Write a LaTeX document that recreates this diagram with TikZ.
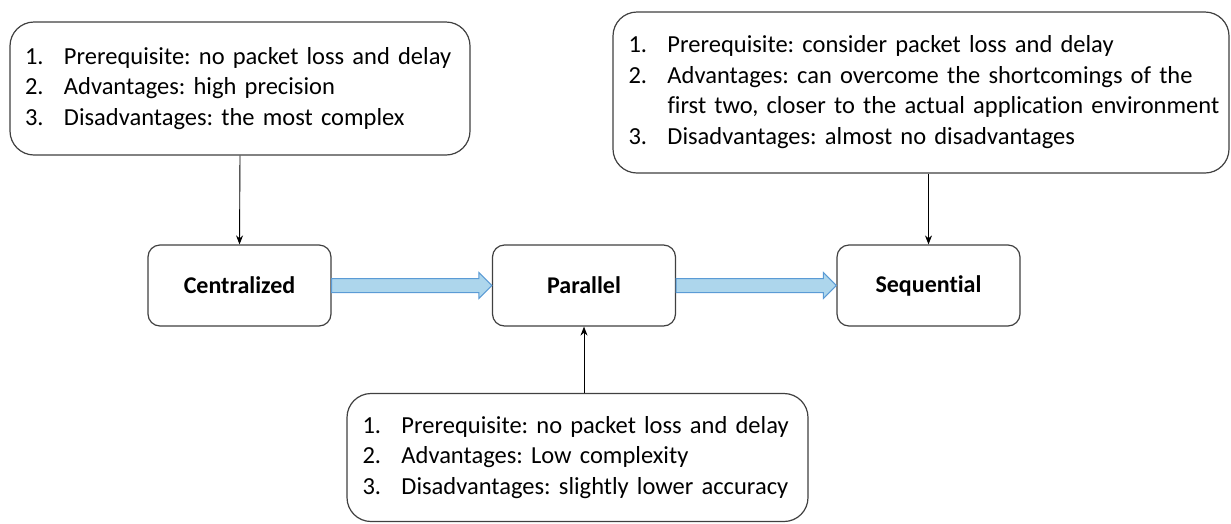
\documentclass[tikz,border=0pt]{standalone}
\usepackage{fontspec}
\setmainfont{Carlito}[Ligatures=NoCommon]
\frenchspacing
\usetikzlibrary{calc,arrows.meta}
\definecolor{edge}{HTML}{404040}
\definecolor{arrfill}{HTML}{ADD6EC}
\definecolor{arrline}{HTML}{5B9BD5}
\newcommand{\itm}[1]{\makebox[39pt][l]{#1}}
\begin{document}
\begin{tikzpicture}[x=1pt,y=-1pt,
  infobox/.style={draw=edge,line width=1.2pt,rounded corners=24pt,fill=white,
    text width=#1,align=left,inner xsep=0pt,inner ysep=0pt,
    font=\fontsize{24.5}{30.5}\selectfont},
  stagebox/.style={draw=edge,line width=1.2pt,rounded corners=12pt,fill=white,
    minimum width=183pt,minimum height=81pt,inner sep=0pt,
    font=\fontsize{24}{29}\selectfont\bfseries},
  link/.style={draw=black,line width=0.9pt,-{Stealth[length=9pt,width=7pt]}},
  blockarrow/.style={draw=arrline,fill=arrfill,line width=1pt,line join=miter}]
\useasboundingbox (0,0) rectangle (1231,523);

% stage nodes
\node[stagebox] (cen) at (239.5,285.5) {Centralized};
\node[stagebox] (par) at (584,285.5) {Parallel};
\node[stagebox] (seq) at (928.5,285.5) {Sequential};

% info boxes
\node[infobox=430pt,minimum width=460pt,minimum height=133pt] (tl) at (240,88.5)
 {\raisebox{-2pt}{\begin{tabular}{@{}l@{}}
 \itm{1.}Prerequisite: no packet loss and delay\\
 \itm{2.}Advantages: high precision\\
 \itm{3.}Disadvantages: the most complex
 \end{tabular}}};
\node[infobox=585pt,minimum width=616pt,minimum height=161pt] (tr) at (921,92.5)
 {\raisebox{-2pt}{\begin{tabular}{@{}l@{}}
 \itm{1.}Prerequisite: consider packet loss and delay\\
 \itm{2.}Advantages: can overcome the shortcomings of the\\
 \itm{}first two, closer to the actual application environment\\
 \itm{3.}Disadvantages: almost no disadvantages
 \end{tabular}}};
\node[infobox=430pt,minimum width=461pt,minimum height=128pt] (bt) at (577.5,457.5)
 {\raisebox{-2pt}{\begin{tabular}{@{}l@{}}
 \itm{1.}Prerequisite: no packet loss and delay\\
 \itm{2.}Advantages: Low complexity\\
 \itm{3.}Disadvantages: slightly lower accuracy
 \end{tabular}}};

% thin connectors
\draw[link] (tl.south) -- (cen.north);
\draw[link] (tr.south -| seq.north) -- (seq.north);
\draw[link] (bt.north -| par.south) -- (par.south);

% block arrows
\draw[blockarrow] ($(cen.east)+(0,-7)$) -- ($(par.west)+(-13,-7)$) -- ($(par.west)+(-13,-13)$)
  -- (par.west) -- ($(par.west)+(-13,13)$) -- ($(par.west)+(-13,7)$) -- ($(cen.east)+(0,7)$) -- cycle;
\draw[blockarrow] ($(par.east)+(0,-7)$) -- ($(seq.west)+(-13,-7)$) -- ($(seq.west)+(-13,-13)$)
  -- (seq.west) -- ($(seq.west)+(-13,13)$) -- ($(seq.west)+(-13,7)$) -- ($(par.east)+(0,7)$) -- cycle;
\end{tikzpicture}
\end{document}
